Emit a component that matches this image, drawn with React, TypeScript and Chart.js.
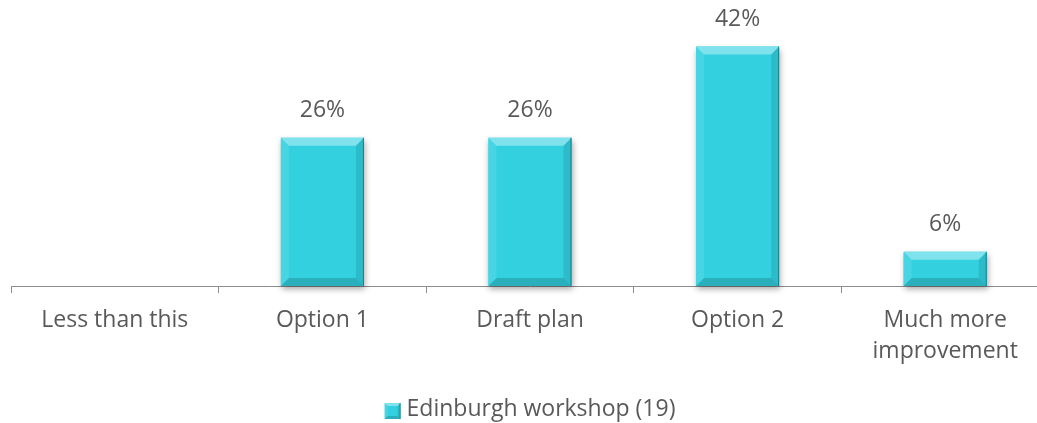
import { useEffect, useRef } from "react";
import { Chart, registerables } from "chart.js";

Chart.register(...registerables);

const categories: (string | string[])[] = [
  "Less than this",
  "Option 1",
  "Draft plan",
  "Option 2",
  ["Much more", "improvement"],
];
const seriesLabel = "Edinburgh workshop (19)";
const values = [0, 26, 26, 42, 6];

const BAR = "#33d1e0";
const TEXT = "#595959";
const FONT = "'Open Sans', sans-serif";
const FS = 23;

const shadowPlugin = {
  id: "barShadow",
  beforeDatasetsDraw(chart: any) {
    const ctx = chart.ctx;
    const meta = chart.getDatasetMeta(0);
    meta.data.forEach((bar: any, i: number) => {
      if (!values[i]) return;
      const w = bar.width;
      ctx.save();
      ctx.shadowColor = "rgba(0,0,0,0.35)";
      ctx.shadowBlur = 6;
      ctx.shadowOffsetX = 1;
      ctx.shadowOffsetY = 3;
      ctx.fillStyle = BAR;
      ctx.fillRect(bar.x - w / 2, bar.y, w, bar.base - bar.y);
      ctx.restore();
    });
  },
};

function bevel(ctx: CanvasRenderingContext2D, l: number, t: number, r: number, b: number, s: number) {
  const poly = (pts: number[][], fill: string) => {
    ctx.beginPath();
    ctx.moveTo(pts[0][0], pts[0][1]);
    for (let k = 1; k < pts.length; k++) ctx.lineTo(pts[k][0], pts[k][1]);
    ctx.closePath();
    ctx.fillStyle = fill;
    ctx.fill();
  };
  const h = Math.min(s, (b - t) / 2);
  poly([[l, t], [r, t], [r - s, t + h], [l + s, t + h]], "rgba(255,255,255,0.38)");
  poly([[l, t], [l + s, t + h], [l + s, b - h], [l, b]], "rgba(255,255,255,0.10)");
  poly([[r, t], [r, b], [r - s, b - h], [r - s, t + h]], "rgba(0,0,0,0.10)");
  poly([[l, b], [l + s, b - h], [r - s, b - h], [r, b]], "rgba(0,0,0,0.16)");
  ctx.strokeStyle = "rgba(0,80,90,0.55)";
  ctx.lineWidth = 1;
  ctx.beginPath();
  ctx.moveTo(r - 0.5, t);
  ctx.lineTo(r - 0.5, b);
  ctx.stroke();
}

const bevelPlugin = {
  id: "barBevel",
  afterDatasetsDraw(chart: any) {
    const ctx = chart.ctx;
    const meta = chart.getDatasetMeta(0);
    meta.data.forEach((bar: any, i: number) => {
      if (!values[i]) return;
      const w = bar.width;
      ctx.save();
      bevel(ctx, bar.x - w / 2, bar.y, bar.x + w / 2, bar.base, 8);
      ctx.restore();
      ctx.save();
      ctx.font = `${FS}px ${FONT}`;
      ctx.fillStyle = TEXT;
      ctx.textAlign = "center";
      ctx.textBaseline = "middle";
      ctx.fillText(values[i] + "%", bar.x, bar.y - 27);
      ctx.restore();
    });
  },
};

const legendPlugin = {
  id: "customLegend",
  afterDraw(chart: any) {
    const ctx = chart.ctx;
    const area = chart.chartArea;
    ctx.save();
    ctx.font = `${FS}px ${FONT}`;
    const tw = ctx.measureText(seriesLabel).width;
    const box = 16;
    const gap = 6;
    const total = box + gap + tw;
    const cx = (area.left + area.right) / 2;
    const cy = 409;
    const x0 = cx - total / 2;
    ctx.fillStyle = BAR;
    ctx.fillRect(x0, cy - box / 2 + 2, box, box);
    bevel(ctx, x0, cy - box / 2 + 2, x0 + box, cy + box / 2 + 2, 3);
    ctx.fillStyle = TEXT;
    ctx.textAlign = "left";
    ctx.textBaseline = "middle";
    ctx.fillText(seriesLabel, x0 + box + gap, cy);
    ctx.restore();
  },
};

export default function App() {
  const ref = useRef<HTMLCanvasElement | null>(null);
  useEffect(() => {
    if (!ref.current) return;
    const chart = new Chart(ref.current, {
      type: "bar",
      data: {
        labels: categories,
        datasets: [
          {
            label: seriesLabel,
            data: values,
            backgroundColor: BAR,
            borderWidth: 0,
            barPercentage: 0.4,
            categoryPercentage: 1,
          },
        ],
      },
      options: {
        animation: false,
        responsive: false,
        layout: { padding: { left: 11, right: 11, top: 1, bottom: 44 } },
        plugins: {
          legend: { display: false },
          tooltip: { enabled: false },
        },
        scales: {
          x: {
            offset: true,
            border: { color: "#8c8c8c", width: 1 },
            grid: {
              display: true,
              offset: true,
              drawOnChartArea: false,
              drawTicks: true,
              tickLength: 7,
              color: "#8c8c8c",
            },
            ticks: {
              color: TEXT,
              font: { family: FONT, size: FS, lineHeight: "31px" } as any,
              padding: 12,
              maxRotation: 0,
              autoSkip: false,
            },
          },
          y: {
            display: false,
            min: 0,
            max: 50,
          },
        },
      },
      plugins: [shadowPlugin, bevelPlugin, legendPlugin],
    });
    return () => chart.destroy();
  }, []);
  return (
    <div style={{ position: "absolute", left: 0, top: 0, width: 1037, height: 423, overflow: "hidden", background: "#fff" }}>
      <canvas ref={ref} width={1060} height={423} style={{ width: 1060, height: 423, display: "block" }} />
    </div>
  );
}
